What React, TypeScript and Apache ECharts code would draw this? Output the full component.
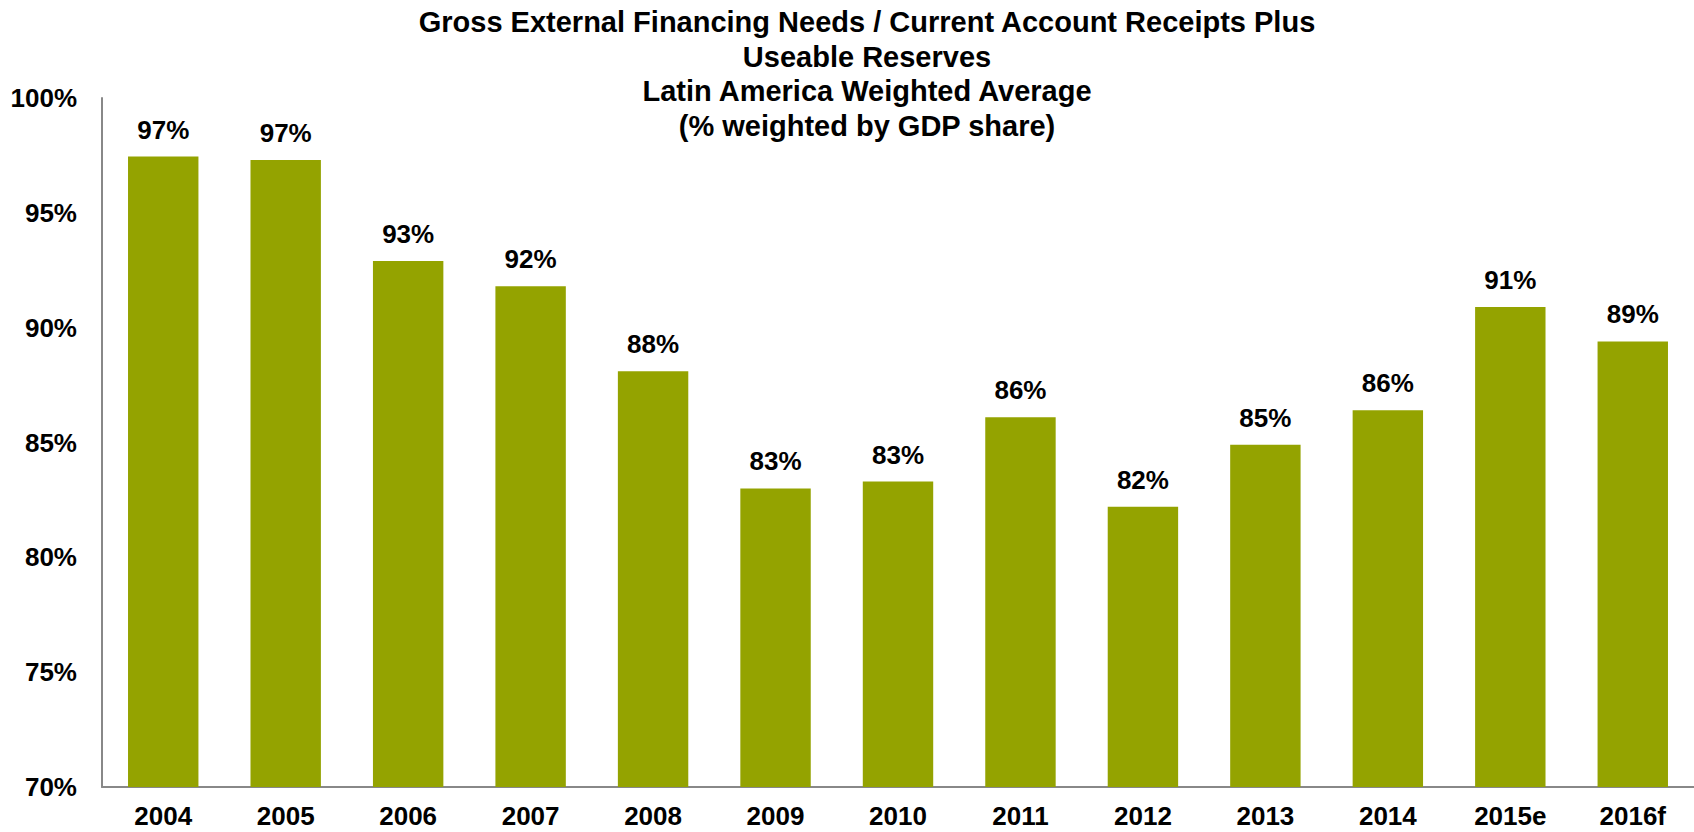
import React, { useEffect, useRef } from "react";
import * as echarts from "echarts";

const categories = ["2004", "2005", "2006", "2007", "2008", "2009", "2010", "2011", "2012", "2013", "2014", "2015e", "2016f"];
const values = [97.45, 97.3, 92.9, 91.8, 88.1, 83.0, 83.3, 86.1, 82.2, 84.9, 86.4, 90.9, 89.4];
const titleLines = [
  "Gross External Financing Needs / Current Account Receipts Plus",
  "Useable Reserves",
  "Latin America Weighted Average",
  "(% weighted by GDP share)",
];
const yMin = 70;
const yMax = 100;
const yStep = 5;

export default function App() {
  const ref = useRef<HTMLDivElement>(null);
  useEffect(() => {
    if (!ref.current) return;
    const chart = echarts.init(ref.current, null, { renderer: "svg" });
    const font = "'Liberation Sans', Arial, sans-serif";
    chart.setOption({
      animation: false,
      backgroundColor: "#ffffff",
      title: {
        text: titleLines.join("\n"),
        left: 862,
        top: 0,
        textAlign: "center",
        textStyle: {
          fontFamily: font,
          fontWeight: "bold",
          fontSize: 29,
          lineHeight: 34.5,
          color: "#000",
        },
      },
      grid: { left: 102, right: -7, top: 98, bottom: 45, containLabel: false },
      xAxis: {
        type: "category",
        data: categories,
        axisLine: { show: true, lineStyle: { color: "#888888", width: 2 } },
        axisTick: { show: false },
        axisLabel: {
          fontFamily: font,
          fontWeight: "bold",
          fontSize: 26,
          color: "#000",
          margin: 16,
          interval: 0,
        },
      },
      yAxis: {
        type: "value",
        min: yMin,
        max: yMax,
        interval: yStep,
        splitLine: { show: false },
        axisLine: { show: true, lineStyle: { color: "#888888", width: 2 } },
        axisTick: { show: false },
        axisLabel: {
          fontFamily: font,
          fontWeight: "bold",
          fontSize: 26,
          color: "#000",
          margin: 25,
          formatter: (v: number) => v + "%",
        },
      },
      series: [
        {
          type: "bar",
          data: values,
          barCategoryGap: "42.5%",
          itemStyle: { color: "#94A300" },
          label: {
            show: true,
            position: "top",
            distance: 14,
            fontFamily: font,
            fontWeight: "bold",
            fontSize: 26,
            color: "#000",
            formatter: (p: any) => Math.round(p.value) + "%",
          },
        },
      ],
    });
    return () => chart.dispose();
  }, []);
  return (
    <div
      ref={ref}
      style={{ position: "fixed", left: 0, top: 0, width: 1694, height: 832, background: "#fff" }}
    />
  );
}
